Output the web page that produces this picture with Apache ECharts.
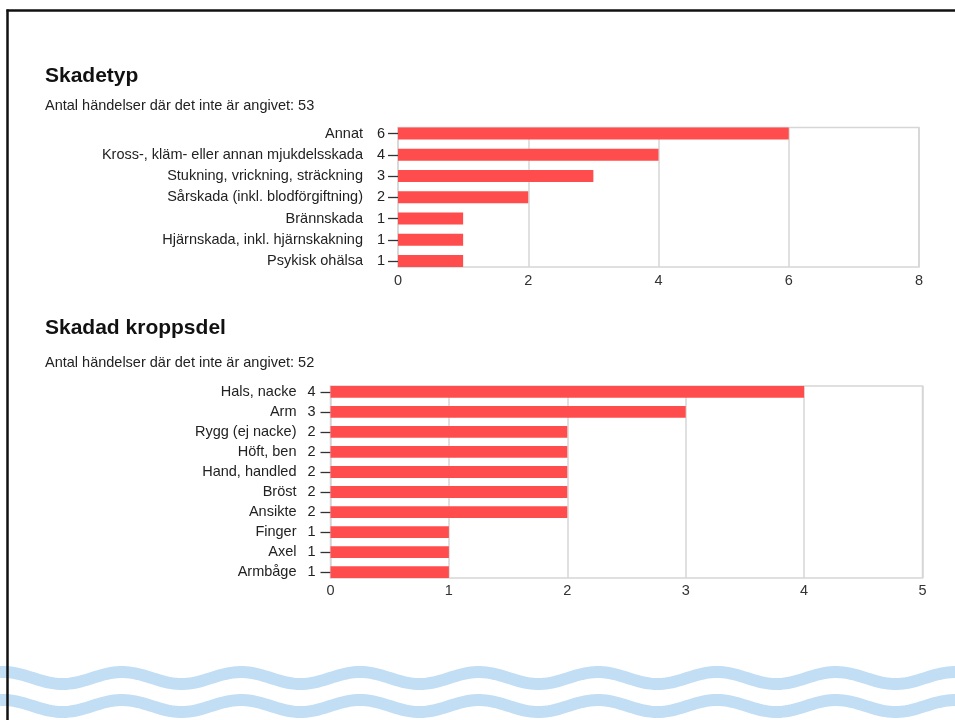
<!DOCTYPE html>
<html>
<head>
<meta charset="utf-8">
<script src="https://cdn.jsdelivr.net/npm/echarts@6/dist/echarts.min.js"></script>
<style>
html,body{margin:0;padding:0;background:#fff;}
#c{width:955px;height:720px;}
</style>
</head>
<body>
<div id="c"></div>
<script>
// Chart 1: Skadetyp
const cats1 = ['Annat', 'Kross-, kläm- eller annan mjukdelsskada', 'Stukning, vrickning, sträckning', 'Sårskada (inkl. blodförgiftning)', 'Brännskada', 'Hjärnskada, inkl. hjärnskakning', 'Psykisk ohälsa'];
const vals1 = [6, 4, 3, 2, 1, 1, 1];
const ticks1 = [0, 2, 4, 6, 8];
// Chart 2: Skadad kroppsdel
const cats2 = ['Hals, nacke', 'Arm', 'Rygg (ej nacke)', 'Höft, ben', 'Hand, handled', 'Bröst', 'Ansikte', 'Finger', 'Axel', 'Armbåge'];
const vals2 = [4, 3, 2, 2, 2, 2, 2, 1, 1, 1];
const ticks2 = [0, 1, 2, 3, 4, 5];

const FONT = '"Liberation Sans", Arial, sans-serif';
const RED = '#ff4d4d';
const GRIDC = '#d6d6d6';

function wavePoints(mean, amp, period, phase) {
  const pts = [];
  for (let x = 0; x <= 960; x += 3) {
    pts.push([x, mean - amp * Math.cos(2 * Math.PI * (x - phase) / period)]);
  }
  return pts;
}

const chart = echarts.init(document.getElementById('c'), null, {renderer: 'canvas'});

function catAxis(grid, cats, vals, margin, vw) {
  return {
    type: 'category', gridIndex: grid, data: cats, inverse: true,
    axisLine: {show: false},
    axisTick: {show: true, alignWithLabel: true, length: 10, lineStyle: {color: '#333', width: 1.3}},
    axisLabel: {
      margin: margin, color: '#222', fontFamily: FONT, fontSize: 14.5,
      formatter: function (v, i) { return '{n|' + v + '}{v|' + vals[i] + '}'; },
      rich: {
        n: {fontFamily: FONT, fontSize: 14.5, color: '#222'},
        v: {fontFamily: FONT, fontSize: 14.5, color: '#222', width: vw, align: 'right'}
      }
    },
    splitLine: {show: false}
  };
}

function valAxisHidden(grid, max) {
  return {type: 'value', gridIndex: grid, min: 0, max: max, show: false, splitLine: {show: false}};
}
function valAxisFrame(grid, ticks, margin) {
  return {
    type: 'value', gridIndex: grid, min: ticks[0], max: ticks[ticks.length - 1],
    interval: ticks[1] - ticks[0],
    axisLine: {show: false}, axisTick: {show: false},
    axisLabel: {margin: margin, color: '#333', fontFamily: FONT, fontSize: 14.5},
    splitLine: {show: true, lineStyle: {color: GRIDC, width: 1.5}}
  };
}

const option = {
  backgroundColor: '#fff',
  animation: false,
  title: [
    {text: 'Skadetyp', left: 45, top: 66, padding: 0, textStyle: {fontFamily: FONT, fontSize: 21, fontWeight: 'bold', color: '#111'}},
    {text: 'Antal händelser där det inte är angivet: 53', left: 45, top: 98, padding: 0, textStyle: {fontFamily: FONT, fontSize: 14.5, fontWeight: 'normal', color: '#222'}},
    {text: 'Skadad kroppsdel', left: 45, top: 318, padding: 0, textStyle: {fontFamily: FONT, fontSize: 21, fontWeight: 'bold', color: '#111'}},
    {text: 'Antal händelser där det inte är angivet: 52', left: 45, top: 355, padding: 0, textStyle: {fontFamily: FONT, fontSize: 14.5, fontWeight: 'normal', color: '#222'}}
  ],
  grid: [
    {left: 398, width: 521, top: 122.9, height: 148.75, show: false},
    {left: 398, width: 521, top: 127.5, height: 139.5, show: true, borderColor: GRIDC, borderWidth: 1.5, backgroundColor: 'transparent'},
    {left: 330.5, width: 592, top: 381.9, height: 200.2, show: false},
    {left: 330.5, width: 592, top: 386, height: 192, show: true, borderColor: GRIDC, borderWidth: 1.5, backgroundColor: 'transparent'}
  ],
  xAxis: [
    valAxisHidden(0, ticks1[ticks1.length - 1]),
    valAxisFrame(1, ticks1, 6),
    valAxisHidden(2, ticks2[ticks2.length - 1]),
    valAxisFrame(3, ticks2, 5)
  ],
  yAxis: [
    catAxis(0, cats1, vals1, 13, 22),
    {type: 'value', gridIndex: 1, show: false, splitLine: {show: false}},
    catAxis(2, cats2, vals2, 15, 19),
    {type: 'value', gridIndex: 3, show: false, splitLine: {show: false}}
  ],
  series: [
    {type: 'bar', xAxisIndex: 0, yAxisIndex: 0, data: vals1, barWidth: 12, itemStyle: {color: RED}, z: 5},
    {type: 'bar', xAxisIndex: 2, yAxisIndex: 2, data: vals2, barWidth: 11.8, itemStyle: {color: RED}, z: 5}
  ],
  graphic: [
    {type: 'line', shape: {x1: 6.5, y1: 10.5, x2: 955, y2: 10.5}, style: {stroke: '#111', lineWidth: 2.5}, z: 100},
    {type: 'line', shape: {x1: 7.5, y1: 9.5, x2: 7.5, y2: 720}, style: {stroke: '#111', lineWidth: 2.5}, z: 100},
    {type: 'polyline', shape: {points: wavePoints(678, 6, 119, 3)}, style: {stroke: '#c2def4', lineWidth: 12, fill: null}, z: 50},
    {type: 'polyline', shape: {points: wavePoints(706, 6, 119, 3)}, style: {stroke: '#c2def4', lineWidth: 12, fill: null}, z: 50}
  ]
};
chart.setOption(option);
</script>
</body>
</html>
